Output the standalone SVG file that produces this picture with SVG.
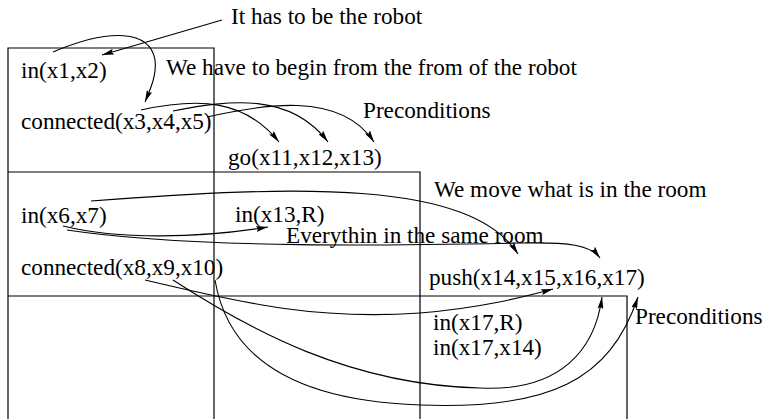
<svg xmlns="http://www.w3.org/2000/svg" width="765" height="419" viewBox="0 0 765 419">
<style>
text{font-family:"Liberation Serif","Times New Roman",serif;font-size:23.2px;fill:#000}
.box{fill:none;stroke:#000;stroke-width:1.2}
.c{fill:none;stroke:#000;stroke-width:1.1;marker-end:url(#ah)}
</style>
<defs>
<marker id="ah" viewBox="0 0 12 6" refX="12" refY="3" markerWidth="12" markerHeight="6" markerUnits="userSpaceOnUse" orient="auto">
<path d="M0,0 L12,3 L0,6 L2,3 z" fill="#000"/>
</marker>
</defs>
<rect width="765" height="419" fill="#fff"/>
<g id="frames">
<path class="box" d="M8,425 V48 H214 V425"/>
<path class="box" d="M8,172 H420 V425"/>
<path class="box" d="M8,296 H627 V425"/>
</g>
<g id="connectors">
<path class="c" d="M222,20 L102,55"/>
<path class="c" d="M53,52 C110,28 150,30 155,60 C157,75 150,90 145,102"/>
<path class="c" d="M141,110 C200,97 245,100 279,142"/>
<path class="c" d="M173,111 C230,100 290,92 328,142"/>
<path class="c" d="M207,117 C260,105 340,90 374,142"/>
<path class="c" d="M91,201 C300,185 470,180 518,254"/>
<path class="c" d="M63,226 C120,240 200,238 268,227"/>
<path class="c" d="M67,230 C200,250 420,245 520,243 C570,242 590,245 600,258"/>
<path class="c" d="M145,280 C250,305 320,320 420,313 C480,308 520,298 553,289"/>
<path class="c" d="M173,280 C250,330 350,385 480,388 C560,392 595,350 602,297"/>
<path class="c" d="M215,280 C225,340 270,400 420,405 C550,410 610,380 638,297"/>
</g>
<g id="note-robot"><text x="231" y="24">It has to be the robot</text></g>
<g id="note-begin"><text x="166" y="74.5">We have to begin from the from of the robot</text></g>
<g id="note-pre1"><text x="363" y="118">Preconditions</text></g>
<g id="in-x1-x2"><text x="21" y="77.5">in(x1,x2)</text></g>
<g id="connected-x3"><text x="21" y="129">connected(x3,x4,x5)</text></g>
<g id="go"><text x="228" y="164.5">go(x11,x12,x13)</text></g>
<g id="note-move"><text x="434" y="196.5">We move what is in the room</text></g>
<g id="in-x6-x7"><text x="21" y="222.5">in(x6,x7)</text></g>
<g id="in-x13-R"><text x="235" y="221.5">in(x13,R)</text></g>
<g id="note-same"><text x="286" y="242.5">Everythin in the same room</text></g>
<g id="connected-x8"><text x="21" y="274.5">connected(x8,x9,x10)</text></g>
<g id="push"><text x="429" y="284.5">push(x14,x15,x16,x17)</text></g>
<g id="note-pre2"><text x="635" y="323.5">Preconditions</text></g>
<g id="in-x17-R"><text x="433" y="329.5">in(x17,R)</text></g>
<g id="in-x17-x14"><text x="433" y="354.5">in(x17,x14)</text></g>
</svg>
